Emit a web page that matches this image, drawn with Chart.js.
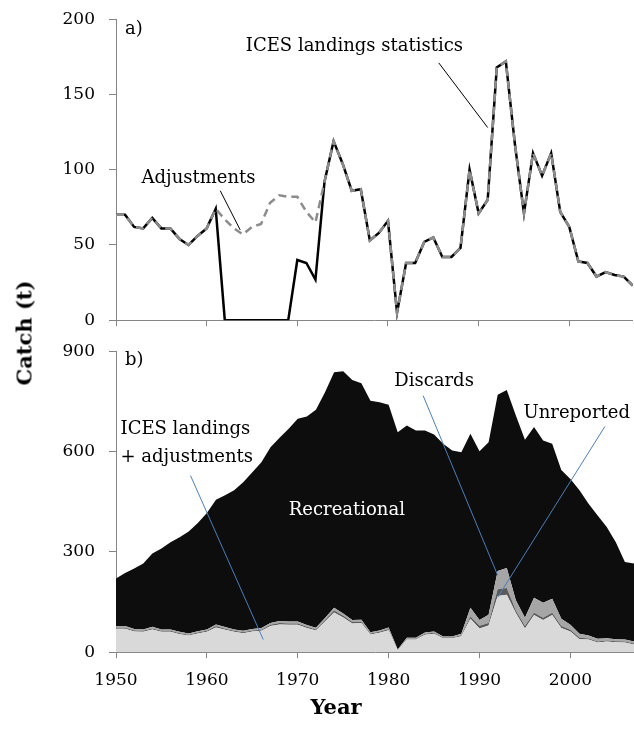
<!DOCTYPE html>
<html>
<head>
<meta charset="utf-8">
<title>Catch</title>
<script src="https://cdn.jsdelivr.net/npm/chart.js@4.4.1/dist/chart.umd.min.js"></script>
<style>
  body { margin: 0; background: #fff; width: 634px; height: 737px; position: relative; overflow: hidden; font-family: "DejaVu Serif", serif; }
  #wrapA { position: absolute; left: 0; top: 0; }
  #wrapB { position: absolute; left: 0; top: 340px; }
  .ytitle { position: absolute; left: 24px; top: 333px; transform: translate(-50%, -50%) rotate(-90deg); font-weight: bold; font-size: 21px; white-space: nowrap; }
  .xtitle { position: absolute; left: 336px; top: 706px; transform: translate(-50%, -50%); font-weight: bold; font-size: 21px; }
</style>
</head>
<body>
<div id="wrapA"><canvas id="chartA" width="634" height="375"></canvas></div>
<div id="wrapB"><canvas id="chartB" width="634" height="400"></canvas></div>
<div class="ytitle">Catch (t)</div>
<div class="xtitle">Year</div>
<script>
/* ---- data ---- */
const years = [1950,1951,1952,1953,1954,1955,1956,1957,1958,1959,
               1960,1961,1962,1963,1964,1965,1966,1967,1968,1969,
               1970,1971,1972,1973,1974,1975,1976,1977,1978,1979,
               1980,1981,1982,1983,1984,1985,1986,1987,1988,1989,
               1990,1991,1992,1993,1994,1995,1996,1997,1998,1999,
               2000,2001,2002,2003,2004,2005,2006,2007];

// panel a: ICES landings statistics (solid)
const icesLandings = [70,70,62,61,68,61,61,54,50,56,
                      61,74,0,0,0,0,0,0,0,0,
                      40,38,27,92,119,104,86,87,53,58,
                      66,5,38,38,52,55,42,42,48,100,
                      71,80,168,172,117,71,111,96,111,72,
                      62,39,38,29,32,30,29,23];

// panel a: landings with adjustments (dashed) = bottom layer of panel b
const adjusted = [70,70,62,61,68,61,61,54,50,56,
                  61,74,67,61,57,62,64,78,83,82,
                  82,72,65,92,119,104,86,87,53,58,
                  66,5,38,38,52,55,42,42,48,100,
                  71,80,168,172,117,71,111,96,111,72,
                  62,39,38,29,32,30,29,23];

// panel b layers
const unreported = [3,3,3,3,3,3,3,3,2,3,
                    3,4,3,3,3,3,3,4,4,4,
                    4,4,3,4,6,5,4,4,3,3,
                    3,1,2,2,3,3,2,2,3,7,
                    8,7,20,20,8,7,7,7,7,6,
                    5,4,3,3,3,3,3,3];

const discards = [5,5,4,4,5,4,4,4,4,4,
                  4,5,5,4,4,4,5,5,6,6,
                  6,5,5,6,8,7,6,6,4,4,
                  5,2,3,3,4,4,3,3,4,26,
                  17,25,55,60,30,25,45,45,42,22,
                  15,12,9,8,7,6,6,6];

const recreational = [142,159,181,197,219,242,261,283,305,323,
                      348,373,394,416,444,469,496,526,548,576,
                      606,624,652,675,704,724,718,707,692,682,
                      666,650,635,620,604,589,576,556,543,520,
                      505,516,527,532,553,532,510,485,463,445,
                      436,429,394,369,332,290,232,233];

const ticksA = [0, 50, 100, 150, 200];
const ticksB = [0, 300, 600, 900];
const yearTicks = [1950, 1960, 1970, 1980, 1990, 2000];

/* ---- helpers ---- */
const FONT = '"DejaVu Serif", serif';
const AXIS_GREY = '#868686';

function pts(arr) { return years.map((yr, i) => ({ x: yr, y: arr[i] })); }

// labels and leader lines given in data units, turned into pixels by the scales
function notesPlugin(labels, lines) {
  return {
    id: 'notes',
    afterDatasetsDraw(chart) {
      const { ctx, scales: { x, y } } = chart;
      ctx.save();
      lines.forEach(l => {
        ctx.strokeStyle = l.color;
        ctx.lineWidth = l.width;
        ctx.beginPath();
        ctx.moveTo(x.getPixelForValue(l.from[0]), y.getPixelForValue(l.from[1]));
        ctx.lineTo(x.getPixelForValue(l.to[0]), y.getPixelForValue(l.to[1]));
        ctx.stroke();
      });
      labels.forEach(t => {
        ctx.font = (t.size || 18) + 'px ' + FONT;
        ctx.fillStyle = t.color || '#000';
        ctx.textAlign = t.align || 'center';
        ctx.textBaseline = 'middle';
        ctx.fillText(t.text, x.getPixelForValue(t.at[0]), y.getPixelForValue(t.at[1]));
      });
      ctx.restore();
    }
  };
}

function xAxis(showLabels, state) {
  return {
    type: 'linear', min: 1950, max: 2007,
    afterBuildTicks: s => { s.ticks = yearTicks.map(v => ({ value: v })); },
    ticks: { display: showLabels, color: '#000', font: { family: FONT, size: 17 }, padding: 12, maxRotation: 0,
             callback: v => String(v) },
    grid: { drawOnChartArea: false, drawTicks: true, tickLength: 6, color: AXIS_GREY },
    border: { color: AXIS_GREY, width: 1 },
    afterFit: s => { s.height = state.xHeight; }
  };
}

function yAxis(max, tickVals, stacked) {
  return {
    min: 0, max: max, stacked: stacked,
    afterBuildTicks: s => { s.ticks = tickVals.map(v => ({ value: v })); },
    ticks: { color: '#000', font: { family: FONT, size: 17 }, padding: 14 },
    grid: { drawOnChartArea: false, drawTicks: true, tickLength: 7, color: AXIS_GREY },
    border: { color: AXIS_GREY, width: 1 },
    afterFit: s => { s.width = 116; }
  };
}

// shift the canvas and resize the x-axis box so the plot area sits at the wanted page rows
function pinArea(chart, wrap, pageTop, pageBottom, state) {
  for (let pass = 0; pass < 3; pass++) {
    const ca = chart.chartArea;
    const dy = pageTop - ca.top;
    wrap.style.top = dy + 'px';
    state.xHeight += (ca.bottom + dy) - pageBottom;
    chart.update();
  }
}

/* ---- panel a ---- */
const stateA = { xHeight: 45 };
const chartA = new Chart(document.getElementById('chartA'), {
  type: 'line',
  data: {
    datasets: [
      { label: 'Adjustments', data: pts(adjusted), borderColor: '#8c8c8c', borderWidth: 2.5,
        borderDash: [8, 5], pointRadius: 0, tension: 0, order: 0 },
      { label: 'ICES landings statistics', data: pts(icesLandings), borderColor: '#000', borderWidth: 2.5,
        pointRadius: 0, tension: 0, order: 1 }
    ]
  },
  options: {
    responsive: false, animation: false,
    layout: { padding: { top: 0, right: 0, left: 0, bottom: 0 } },
    plugins: { legend: { display: false }, tooltip: { enabled: false } },
    scales: { x: xAxis(false, stateA), y: yAxis(200, ticksA, false) }
  },
  plugins: [notesPlugin(
    [
      { text: 'a)', at: [1951.0, 193], align: 'left' },
      { text: 'ICES landings statistics', at: [1976.3, 182] },
      { text: 'Adjustments', at: [1959.1, 94] }
    ],
    [
      { from: [1985.6, 171], to: [1991.0, 128], color: '#000', width: 1 },
      { from: [1961.5, 86], to: [1963.7, 60], color: '#000', width: 1 }
    ]
  )]
});
pinArea(chartA, document.getElementById('wrapA'), 19, 320, stateA);

/* ---- panel b ---- */
const stateB = { xHeight: 85 };
const noBorder = { borderColor: 'rgba(0,0,0,0)', borderWidth: 0, pointRadius: 0, tension: 0 };
const chartB = new Chart(document.getElementById('chartB'), {
  type: 'line',
  data: {
    datasets: [
      { label: 'ICES landings + adjustments', data: pts(adjusted), backgroundColor: '#d9d9d9', fill: 'origin', ...noBorder },
      { label: 'Unreported', data: pts(unreported), backgroundColor: '#5a5a5a', fill: '-1', ...noBorder },
      { label: 'Discards', data: pts(discards), backgroundColor: '#a6a6a6', fill: '-1', ...noBorder },
      { label: 'Recreational', data: pts(recreational), backgroundColor: '#0d0d0d', fill: '-1', ...noBorder }
    ]
  },
  options: {
    responsive: false, animation: false,
    layout: { padding: { top: 0, right: 0, left: 0, bottom: 0 } },
    plugins: { legend: { display: false }, tooltip: { enabled: false } },
    scales: { x: xAxis(true, stateB), y: yAxis(900, ticksB, true) }
  },
  plugins: [notesPlugin(
    [
      { text: 'b)', at: [1951.0, 872], align: 'left' },
      { text: 'ICES landings', at: [1950.5, 666], align: 'left' },
      { text: '+ adjustments', at: [1950.5, 582], align: 'left' },
      { text: 'Recreational', at: [1975.4, 424], color: '#fff' },
      { text: 'Discards', at: [1985.0, 809] },
      { text: 'Unreported', at: [2000.7, 713] }
    ],
    [
      { from: [1958.2, 528], to: [1966.2, 38], color: '#4a7ebb', width: 1 },
      { from: [1983.8, 767], to: [1992.0, 230], color: '#4a7ebb', width: 1 },
      { from: [2003.8, 675], to: [1992.0, 164], color: '#4a7ebb', width: 1 }
    ]
  )]
});
pinArea(chartB, document.getElementById('wrapB'), 351, 652, stateB);
</script>
</body>
</html>
